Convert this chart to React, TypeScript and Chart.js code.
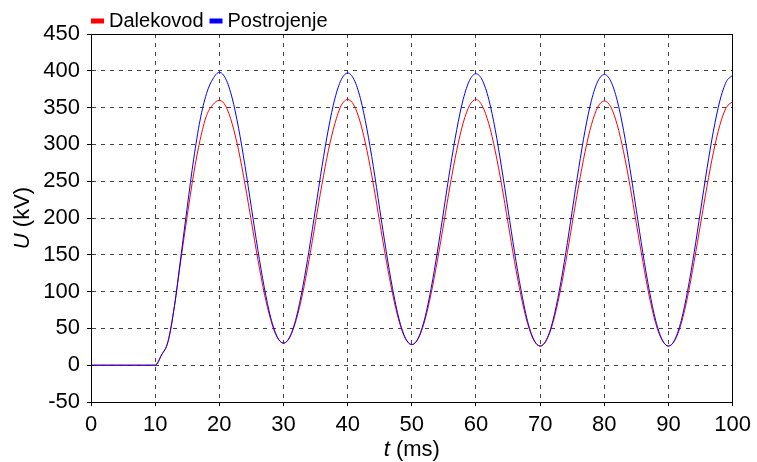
import React, { useEffect, useRef } from "react";
import { Chart, registerables } from "chart.js";

Chart.register(...registerables);

const times = [
  0, 10, 11, 12, 13, 14, 15, 16, 17, 18, 19, 20,
  21, 22, 23, 24, 25, 26, 27, 28, 29, 30,
  31, 32, 33, 34, 35, 36, 37, 38, 39, 40,
  41, 42, 43, 44, 45, 46, 47, 48, 49, 50,
  51, 52, 53, 54, 55, 56, 57, 58, 59, 60,
  61, 62, 63, 64, 65, 66, 67, 68, 69, 70,
  71, 72, 73, 74, 75, 76, 77, 78, 79, 80,
  81, 82, 83, 84, 85, 86, 87, 88, 89, 90,
  91, 92, 93, 94, 95, 96, 97, 98, 99, 100,
];

const dalekovod = [
  0, 0, 14, 32, 80, 143, 203, 260, 306, 339, 354, 360,
  352, 328, 292, 246, 195, 144, 98, 62, 38, 30,
  38, 62, 98, 144, 195, 246, 292, 328, 353, 361,
  353, 329, 292, 246, 194, 143, 97, 60, 36, 28,
  36, 60, 97, 143, 194, 246, 292, 329, 353, 361,
  352, 328, 291, 245, 193, 141, 95, 58, 34, 26,
  34, 58, 95, 141, 193, 244, 290, 327, 351, 359,
  351, 327, 290, 244, 192, 141, 94, 57, 34, 26,
  34, 57, 94, 141, 192, 243, 289, 326, 350, 358,
];

const postrojenje = [
  0, 0, 14, 32, 80, 147, 215, 280, 333, 369, 389, 398,
  389, 363, 322, 271, 214, 157, 106, 65, 39, 30,
  39, 65, 106, 157, 213, 270, 321, 362, 388, 397,
  388, 362, 321, 270, 212, 155, 104, 63, 37, 28,
  37, 63, 104, 155, 212, 269, 320, 361, 387, 396,
  387, 361, 320, 268, 211, 154, 103, 61, 35, 26,
  35, 61, 102, 153, 210, 267, 319, 360, 386, 395,
  386, 360, 319, 267, 210, 153, 102, 61, 35, 26,
  35, 61, 102, 153, 210, 267, 318, 359, 385, 394,
];

const seriesLabels = ["Dalekovod", "Postrojenje"];
const xTitle = ["t", " (ms)"];
const yTitle = ["U", " (kV)"];

const FONT = "'Liberation Sans', Arial, sans-serif";

const decorPlugin = {
  id: "decor",
  afterDraw(chart: any) {
    const ctx = chart.ctx;
    const area = chart.chartArea;
    ctx.save();
    ctx.setLineDash([]);
    ctx.strokeStyle = "#000";
    ctx.lineWidth = 1;
    ctx.strokeRect(
      Math.round(area.left) + 0.5,
      Math.round(area.top) + 0.5,
      Math.round(area.right - area.left) - 1,
      Math.round(area.bottom - area.top)
    );
    ctx.font = `20px ${FONT}`;
    ctx.textBaseline = "middle";
    let x = area.left;
    const ly = 21;
    chart.data.datasets.forEach((ds: any) => {
      ctx.fillStyle = ds.borderColor;
      ctx.fillRect(x, ly - 2.5, 13, 5);
      ctx.fillStyle = "#000";
      ctx.textAlign = "left";
      ctx.fillText(ds.label, x + 18, ly);
      x += 18 + ctx.measureText(ds.label).width + 6;
    });
    const drawMixed = (parts: string[], cx: number, cy: number) => {
      ctx.font = `italic 22px ${FONT}`;
      const w1 = ctx.measureText(parts[0]).width;
      ctx.font = `22px ${FONT}`;
      const w2 = ctx.measureText(parts[1]).width;
      const start = cx - (w1 + w2) / 2;
      ctx.textAlign = "left";
      ctx.textBaseline = "middle";
      ctx.fillStyle = "#000";
      ctx.font = `italic 22px ${FONT}`;
      ctx.fillText(parts[0], start, cy);
      ctx.font = `22px ${FONT}`;
      ctx.fillText(parts[1], start + w1, cy);
    };
    drawMixed(xTitle, (area.left + area.right) / 2, 450);
    ctx.save();
    ctx.translate(23, (area.top + area.bottom) / 2);
    ctx.rotate(-Math.PI / 2);
    drawMixed(yTitle, 0, 0);
    ctx.restore();
    ctx.restore();
  },
};

export default function App() {
  const ref = useRef<HTMLCanvasElement | null>(null);
  useEffect(() => {
    document.body.style.margin = "0";
    if (!ref.current) return;
    const mk = (vals: number[]) => times.map((t, i) => ({ x: t, y: vals[i] }));
    const gridOpts = {
      color: "#444",
      lineWidth: 1,
      tickLength: 4,
      tickColor: "#000",
      tickBorderDash: [],
      drawTicks: true,
    };
    const borderOpts = { display: true, color: "#000", width: 1, dash: [4, 5] };
    const chart = new Chart(ref.current, {
      type: "line",
      data: {
        datasets: [
          {
            label: seriesLabels[0],
            data: mk(dalekovod),
            borderColor: "#ff0000",
            backgroundColor: "#ff0000",
            borderWidth: 1,
            pointRadius: 0,
            cubicInterpolationMode: "monotone",
            order: 1,
          },
          {
            label: seriesLabels[1],
            data: mk(postrojenje),
            borderColor: "#0000ff",
            backgroundColor: "#0000ff",
            borderWidth: 1,
            pointRadius: 0,
            cubicInterpolationMode: "monotone",
            order: 0,
          },
        ],
      },
      options: {
        animation: false,
        responsive: false,
        maintainAspectRatio: false,
        layout: { padding: { top: 34, right: 20, left: 0, bottom: 0 } },
        plugins: {
          legend: { display: false },
          tooltip: { enabled: false },
          title: { display: false },
        },
        scales: {
          x: {
            type: "linear",
            min: 0,
            max: 100,
            ticks: {
              stepSize: 10,
              color: "#000",
              padding: 6,
              maxRotation: 0,
              font: { family: FONT, size: 22 },
            },
            grid: gridOpts,
            border: borderOpts,
            afterFit: (s: any) => {
              s.height = 60;
            },
          },
          y: {
            type: "linear",
            min: -50,
            max: 450,
            ticks: {
              stepSize: 50,
              color: "#000",
              padding: 7,
              font: { family: FONT, size: 22 },
            },
            grid: gridOpts,
            border: borderOpts,
            afterFit: (s: any) => {
              s.width = 91;
            },
          },
        },
      },
      plugins: [decorPlugin],
    } as any);
    return () => chart.destroy();
  }, []);
  return (
    <div style={{ position: "absolute", left: 0, top: 0, width: 757, height: 462 }}>
      <canvas ref={ref} width={757} height={462} style={{ width: 757, height: 462 }} />
    </div>
  );
}
